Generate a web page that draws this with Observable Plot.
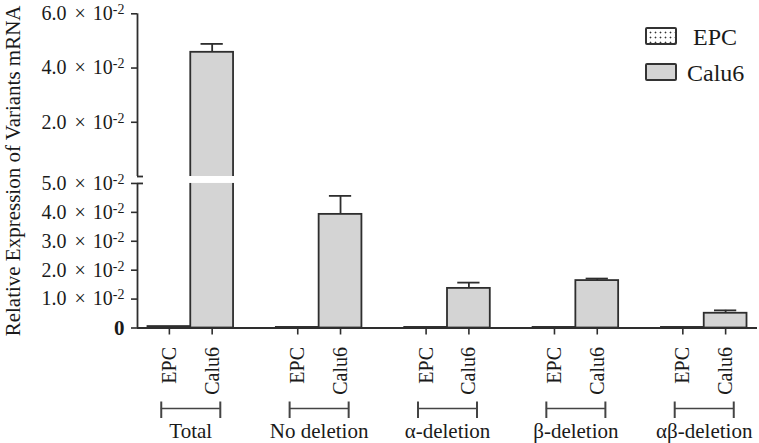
<!DOCTYPE html>
<html><head><meta charset="utf-8">
<script src="https://cdn.jsdelivr.net/npm/d3@7"></script>
<script src="https://cdn.jsdelivr.net/npm/@observablehq/plot@0.6"></script>
<style>
body{margin:0;background:#fff;}
#wrap{position:relative;width:759px;height:443px;font-family:"Liberation Serif",serif;}
.legend{position:absolute;left:645px;top:18px;font-size:24px;color:#1a1a1a;line-height:1;}
.row{position:relative;height:36px;}
.sw{position:absolute;left:0;top:9px;width:28px;height:14px;border:2px solid #333;border-radius:2px;}
.lb{position:absolute;top:7px;white-space:nowrap;}
.dots{background-color:#fff;background-image:radial-gradient(circle,#333 0.8px,transparent 1.1px);background-size:5px 5px;background-position:1px 1px;}
</style></head><body><div id="wrap"></div>
<script>
// ---- data (values in units of ×10^-2) ----
const groups = ["Total", "No deletion", "α-deletion", "β-deletion", "αβ-deletion"];
const cells = ["EPC", "Calu6"];
const epcMean = [0.05, 0.02, 0.02, 0.02, 0.02];
const epcSd = [0, 0, 0, 0, 0];
const calu6Mean = [4.58, 3.93, 1.37, 1.64, 0.51];
const calu6Sd = [0.31, 0.64, 0.20, 0.07, 0.10];
const upperAxisGroups = ["Total"];          // Calu6 value read on the upper (broken) segment
const lowerTicks = [0, 1, 2, 3, 4, 5];
const upperTicks = [2, 4, 6];
const yTitle = "Relative Expression of Variants mRNA";

// ---- broken-axis layout ----
const lowerMax = 5, upperBase = 5.24, upperRatio = 0.938, upperMax = 6;
const pos = (v, upper) => upper ? upperBase + v * upperRatio : v;
const yTop = pos(upperMax, true);

const rows = [];
groups.forEach((g, gi) => {
  cells.forEach((c, ci) => {
    const mean = c === "EPC" ? epcMean[gi] : calu6Mean[gi];
    const sd = c === "EPC" ? epcSd[gi] : calu6Sd[gi];
    const upper = c === "Calu6" && upperAxisGroups.includes(g);
    rows.push({group: g, cell: c, slot: gi * 3 + ci, mean, sd, upper,
      y: pos(mean, upper), err: pos(mean + sd, upper)});
  });
});
const slots = rows.map(d => d.slot);
const xMin = d3.min(slots) - 0.745, xMax = d3.max(slots) + 0.745;
const epcRows = rows.filter(d => d.cell === "EPC");
const caluRows = rows.filter(d => d.cell === "Calu6");
const errRows = rows.filter(d => d.sd > 0);
const brokenRows = rows.filter(d => d.upper);
const groupRows = groups.map((g, gi) => ({group: g, a: gi * 3, b: gi * 3 + 1}));

const yTickPos = [
  ...lowerTicks.map(v => ({u: pos(v, false), v})),
  ...upperTicks.map(v => ({u: pos(v, true), v}))
];
const fmtY = u => {
  const t = yTickPos.find(t => Math.abs(t.u - u) < 1e-9);
  return t.v === 0 ? "0" : t.v.toFixed(1) + "|×|10|-2";
};
const axisSegments = [{y1: 0, y2: lowerMax}, {y1: upperBase, y2: yTop}];
const ink = "#2e2e2e";

const chart = Plot.plot({
  width: 759, height: 443,
  marginLeft: 137, marginRight: 2, marginTop: 13.3, marginBottom: 115.5,
  style: {fontFamily: "Liberation Serif", fontSize: "20px", color: "#1a1a1a", background: "white"},
  x: {type: "linear", domain: [xMin, xMax]},
  y: {domain: [0, yTop]},
  marks: [
    Plot.rectY(epcRows, {x1: d => d.slot - 0.5, x2: d => d.slot + 0.5, y1: 0, y2: "y",
      fill: "url(#epcDots)", stroke: ink, strokeWidth: 1.8}),
    Plot.rectY(caluRows, {x1: d => d.slot - 0.5, x2: d => d.slot + 0.5, y1: 0, y2: "y",
      fill: "#d4d4d4", stroke: ink, strokeWidth: 1.8}),
    Plot.rectY(brokenRows, {x1: d => d.slot - 0.5, x2: d => d.slot + 0.5, y1: lowerMax, y2: upperBase,
      fill: "white", insetLeft: -2, insetRight: -2}),
    Plot.ruleX(errRows, {x: "slot", y1: "y", y2: "err", stroke: ink, strokeWidth: 1.8}),
    Plot.ruleY(errRows, {y: "err", x1: d => d.slot - 0.26, x2: d => d.slot + 0.26, stroke: ink, strokeWidth: 1.8}),
    Plot.ruleY([0], {stroke: ink, strokeWidth: 1.8}),
    Plot.ruleX(axisSegments, {x: () => xMin, y1: "y1", y2: "y2", stroke: ink, strokeWidth: 1.8}),
    Plot.ruleY(axisSegments, {y: d => d.y1 === 0 ? d.y2 : d.y1, x1: () => xMin, x2: () => xMin,
      insetRight: -6, stroke: ink, strokeWidth: 1.8}),
    Plot.axisY({ticks: yTickPos.map(t => t.u), tickFormat: fmtY, tickSize: 6, tickPadding: 7,
      stroke: ink, strokeWidth: 1.6, label: yTitle, labelAnchor: "center", labelOffset: 132,
      labelArrow: "none", fontSize: 20}),
    Plot.axisX({ticks: slots, tickFormat: s => cells[s % 3], tickRotate: -90, tickSize: 7,
      tickPadding: 12, stroke: ink, strokeWidth: 1.6, label: null, fontSize: 20}),
    Plot.ruleY(groupRows, {y: 0, x1: d => d.a - 0.19, x2: d => d.b + 0.19, dy: 80.5, stroke: "#444", strokeWidth: 1.6}),
    Plot.ruleX(groupRows.flatMap(d => [{x: d.a - 0.19}, {x: d.b + 0.19}]), {x: "x", y1: 0, y2: 0,
      insetTop: 74, insetBottom: -90.5, stroke: "#444", strokeWidth: 2}),
    Plot.text(groupRows, {x: d => (d.a + d.b) / 2, y: 0, text: "group", dy: 103, fontSize: 21, fill: "#1a1a1a"})
  ]
});

// dotted pattern for EPC fill
const svgNS = "http://www.w3.org/2000/svg";
const defs = document.createElementNS(svgNS, "defs");
defs.innerHTML = '<pattern id="epcDots" width="5" height="5" patternUnits="userSpaceOnUse"><rect width="5" height="5" fill="white"/><circle cx="2.5" cy="2.5" r="0.8" fill="#333"/></pattern>';
chart.insertBefore(defs, chart.firstChild);

// superscript exponents / bold zero on y tick labels
chart.querySelectorAll('g[aria-label="y-axis tick label"] text').forEach(t => {
  const s = t.textContent;
  if (s.includes("|")) {
    const [num, times, base, exp] = s.split("|");
    t.textContent = num;
    const add = (txt, attrs) => {
      const ts = document.createElementNS(svgNS, "tspan");
      for (const k in attrs) ts.setAttribute(k, attrs[k]);
      ts.textContent = txt;
      t.appendChild(ts);
    };
    add(times, {dx: "8"});
    add(base, {dx: "7"});
    add(exp, {dy: "-6", "font-size": "14"});
  } else if (s === "0") {
    t.setAttribute("font-weight", "bold");
    t.setAttribute("font-size", "21");
  }
});
chart.querySelectorAll('g[aria-label="y-axis label"] text').forEach(t => t.setAttribute("font-size", "21"));

const wrap = document.getElementById("wrap");
wrap.appendChild(chart);
const legend = document.createElement("div");
legend.className = "legend";
legend.innerHTML =
  `<div class="row"><div class="sw dots"></div><div class="lb" style="left:48px">${cells[0]}</div></div>` +
  `<div class="row"><div class="sw" style="background:#d4d4d4"></div><div class="lb" style="left:42px">${cells[1]}</div></div>`;
wrap.appendChild(legend);
</script>
</body></html>
